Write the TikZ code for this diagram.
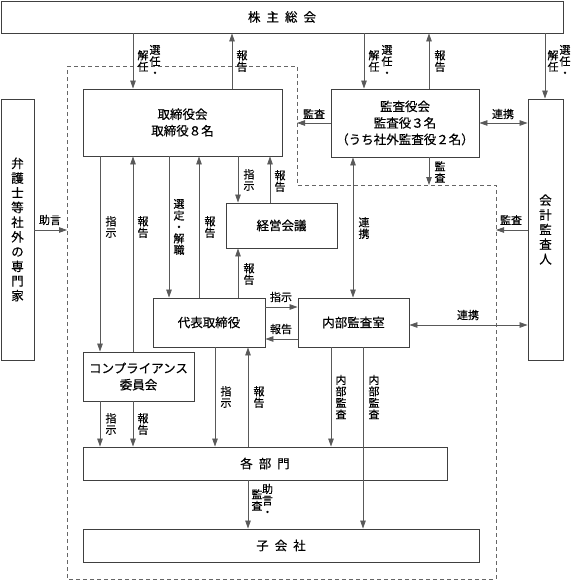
\documentclass[tikz,border=0pt]{standalone}
\usepackage{fontspec}
\setmainfont{Noto Sans CJK JP}[FakeBold=0.4]
\usetikzlibrary{arrows.meta}
\tikzset{
 box/.style={draw=black!75, line width=0.9pt, inner sep=0pt, align=center, font=\fontsize{12.5}{16.5}\selectfont},
 vbox/.style={box, font=\fontsize{12.5}{14.7}\selectfont},
 lab/.style={inner sep=0pt, align=center, font=\fontsize{11}{11.5}\selectfont},
 arr/.style={draw=black!65, line width=0.8pt, -{Triangle[length=8pt,width=5.5pt]}},
 darr/.style={draw=black!65, line width=0.8pt, {Triangle[length=8pt,width=5.5pt]}-{Triangle[length=8pt,width=5.5pt]}},
 frame/.style={draw=black!60, line width=0.7pt, dash pattern=on 4pt off 3pt},
}
\begin{document}
\begin{tikzpicture}[x=1pt,y=-1pt]
\useasboundingbox (0,0) rectangle (572,580);
% dashed company frame
\coordinate (f1) at (67,66);
\coordinate (f2) at (297,66);
\coordinate (f3) at (297,185);
\coordinate (f4) at (496,185);
\coordinate (f5) at (496,579);
\coordinate (f6) at (67,579);
\draw[frame] (f1) -- (f2) -- (f3) -- (f4) -- (f5) -- (f6) -- cycle;
% boxes
\node[box, minimum width=562pt, minimum height=32pt] (sh) at (282,17) {株\hspace{6pt}主\hspace{6pt}総\hspace{6pt}会};
\node[box, minimum width=199pt, minimum height=67pt] (tb) at (182.5,122.5) {取締役会\\取締役８名};
\node[box, minimum width=148pt, minimum height=68pt] (ka) at (405,123) {監査役会\\監査役３名\\（うち社外監査役２名）};
\node[vbox, minimum width=35pt, minimum height=261pt] (kk) at (545.5,229.5) {会\\計\\監\\査\\人};
\node[vbox, minimum width=33pt, minimum height=261pt] (bg) at (17.5,229.5) {弁\\護\\士\\等\\社\\外\\の\\専\\門\\家};
\node[box, minimum width=111pt, minimum height=45pt] (kg) at (281.5,225.5) {経営会議};
\node[box, minimum width=112pt, minimum height=49pt] (dt) at (209,322.5) {代表取締役};
\node[box, minimum width=111pt, minimum height=49pt] (nb) at (353.5,322.5) {内部監査室};
\node[box, minimum width=111pt, minimum height=49pt] (cp) at (138.5,376.5) {コンプライアンス\\委員会};
\node[box, minimum width=364pt, minimum height=33pt] (kb) at (265,463.5) {各\hspace{6pt}部\hspace{6pt}門};
\node[box, minimum width=396pt, minimum height=33pt] (ks) at (281,545.5) {子\hspace{6pt}会\hspace{6pt}社};
% shareholders meeting
\draw[arr] (133,0 |- sh.south) -- (133,0 |- tb.north);
\node[lab] (l1a) at (155,61) {選\\任\\・};
\node[lab] (l1b) at (143,61) {解\\任};
\draw[arr] (232,0 |- tb.north) -- (232,0 |- sh.south);
\node[lab] (l2) at (242,61) {報\\告};
\draw[arr] (364,0 |- sh.south) -- (364,0 |- ka.north);
\node[lab] (l3a) at (387,61) {選\\任\\・};
\node[lab] (l3b) at (374,61) {解\\任};
\draw[arr] (429,0 |- ka.north) -- (429,0 |- sh.south);
\node[lab] (l4) at (440,61) {報\\告};
\draw[arr] (545,0 |- sh.south) -- (545,0 |- kk.north);
\node[lab] (l5a) at (565,61) {選\\任\\・};
\node[lab] (l5b) at (553,61) {解\\任};
% audit board
\draw[arr] (ka.west |- 0,123) -- (f2 |- 0,123);
\node[lab] (l6) at (314,114) {監査};
\draw[darr] (ka.east |- 0,123) -- (kk.west |- 0,123);
\node[lab] (l7) at (503,114) {連携};
\draw[arr] (429,0 |- ka.south) -- (429,0 |- f3);
\node[lab] (l8) at (440,172) {監\\査};
\draw[darr] (353,0 |- ka.south) -- (353,0 |- nb.north);
\node[lab] (l9) at (364,228) {連\\携};
% accounting auditor
\draw[arr] (kk.west |- 0,230) -- (f4 |- 0,230);
\node[lab] (l10) at (511,220) {監査};
\draw[darr] (nb.east |- 0,325) -- (kk.west |- 0,325);
\node[lab] (l11) at (468,315) {連携};
% outside experts
\draw[arr] (bg.east |- 0,230) -- (f1 |- 0,230);
\node[lab] (l12) at (50,220) {助言};
% board of directors
\draw[arr] (100,0 |- tb.south) -- (100,0 |- cp.north);
\node[lab] (l13) at (111,227) {指\\示};
\draw[arr] (133,0 |- cp.north) -- (133,0 |- tb.south);
\node[lab] (l14) at (143,227) {報\\告};
\draw[arr] (169,0 |- tb.south) -- (169,0 |- dt.north);
\node[lab] (l15) at (179,227) {選\\定\\・\\解\\職};
\draw[arr] (199,0 |- dt.north) -- (199,0 |- tb.south);
\node[lab] (l16) at (210,227) {報\\告};
\draw[arr] (238,0 |- tb.south) -- (238,0 |- kg.north);
\node[lab] (l17) at (249,180) {指\\示};
\draw[arr] (270,0 |- kg.north) -- (270,0 |- tb.south);
\node[lab] (l18) at (280,181) {報\\告};
% representative director
\draw[arr] (238,0 |- dt.north) -- (238,0 |- kg.south);
\node[lab] (l19) at (249,274) {報\\告};
\draw[arr] (dt.east |- 0,307) -- (nb.west |- 0,307);
\node[lab] (l20) at (281,297) {指示};
\draw[arr] (nb.west |- 0,339) -- (dt.east |- 0,339);
\node[lab] (l21) at (281,329) {報告};
\draw[arr] (215,0 |- dt.south) -- (215,0 |- kb.north);
\node[lab] (l22) at (226,397) {指\\示};
\draw[arr] (248,0 |- kb.north) -- (248,0 |- dt.south);
\node[lab] (l23) at (259,397) {報\\告};
% compliance committee
\draw[arr] (100,0 |- cp.south) -- (100,0 |- kb.north);
\node[lab] (l24) at (111,424) {指\\示};
\draw[arr] (133,0 |- cp.south) -- (133,0 |- kb.north);
\node[lab] (l25) at (143,424) {報\\告};
% departments to subsidiaries
\draw[arr] (248,0 |- kb.south) -- (248,0 |- ks.north);
\node[lab] (l26a) at (267.5,500) {助\\言\\・};
\node[lab] (l26b) at (257,500) {監\\査};
% internal audit
\draw[arr] (331,0 |- nb.south) -- (331,0 |- kb.north);
\node[lab] (l27) at (341,397) {内\\部\\監\\査};
\draw[arr] (363,0 |- nb.south) -- (363,0 |- ks.north);
\node[lab] (l28) at (374,397) {内\\部\\監\\査};
\end{tikzpicture}
\end{document}
